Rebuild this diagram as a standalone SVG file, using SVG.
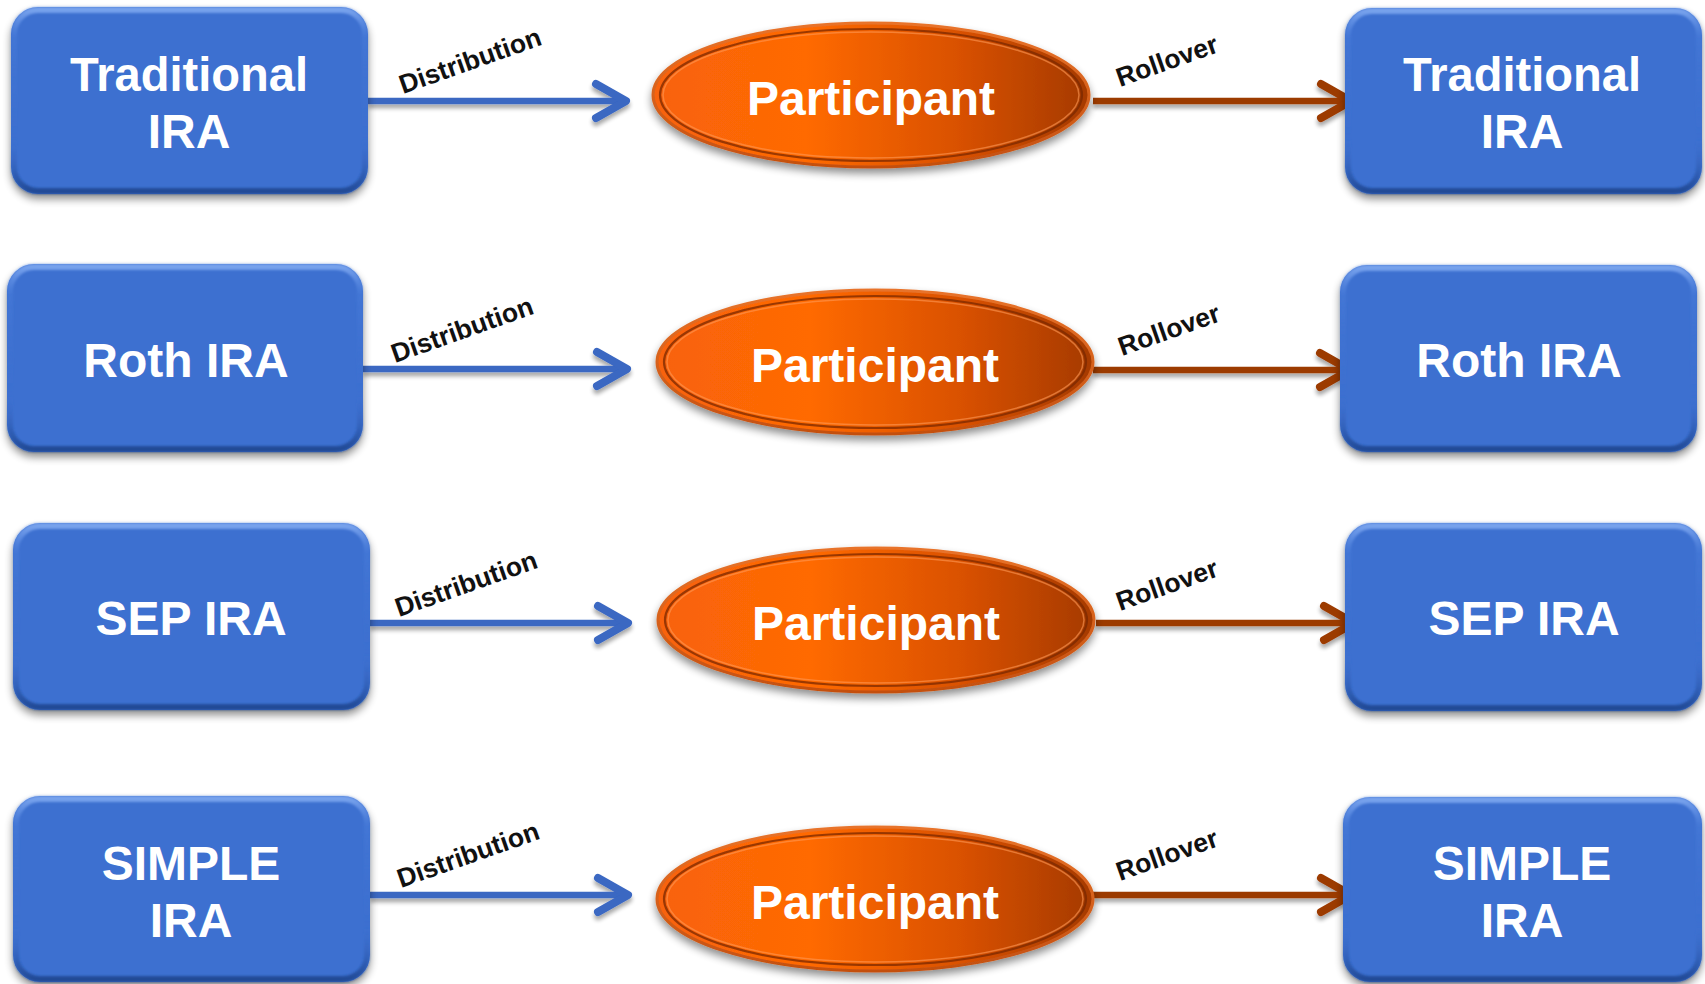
<svg xmlns="http://www.w3.org/2000/svg" width="1705" height="984" viewBox="0 0 1705 984">
<style>
.bt{font-family:"Liberation Sans",Arial,sans-serif;font-weight:bold;font-size:48px;fill:#fff;text-anchor:middle}
.pt{font-family:"Liberation Sans",Arial,sans-serif;font-weight:bold;font-size:48px;fill:#fff;text-anchor:middle}
.lb{font-family:"Liberation Sans",Arial,sans-serif;font-weight:bold;font-size:26.5px;fill:#111}
.box{fill:#3C70D0}
.bev{fill:none;stroke:url(#bevG);stroke-width:6}
.ell{fill:url(#ellG);stroke:url(#rimG);stroke-width:3}
.ring1{fill:none;stroke:#7a2800;stroke-width:2.2;opacity:.75}
.ring2{fill:none;stroke:#ff9a55;stroke-width:1.5;opacity:.6}
.bl{stroke:#3A67C2;stroke-width:6.5;fill:none}
.bh{stroke:#3A67C2;stroke-width:8;fill:none;stroke-linecap:round;stroke-linejoin:round}
.rl{stroke:#9C3A02;stroke-width:6.5;fill:none}
.rh{stroke:#9C3A02;stroke-width:8;fill:none;stroke-linecap:round;stroke-linejoin:round}
</style>
<defs>
<linearGradient id="bevG" x1="0" y1="0" x2="0" y2="1">
<stop offset="0" stop-color="#7FA8F0" stop-opacity="0.9"/>
<stop offset="0.15" stop-color="#4C80DD" stop-opacity="0.4"/>
<stop offset="0.7" stop-color="#3C70D0" stop-opacity="0"/>
<stop offset="1" stop-color="#1E4590" stop-opacity="0.9"/>
</linearGradient>
<linearGradient id="ellG" x1="0" y1="0" x2="1" y2="0">
<stop offset="0" stop-color="#F86208"/>
<stop offset="0.35" stop-color="#FF6A05"/>
<stop offset="0.7" stop-color="#D95100"/>
<stop offset="1" stop-color="#A53A00"/>
</linearGradient>
<linearGradient id="rimG" x1="0" y1="0" x2="0" y2="1">
<stop offset="0" stop-color="#E8732A"/>
<stop offset="1" stop-color="#C45010"/>
</linearGradient>
<filter id="sh" x="-10%" y="-10%" width="120%" height="130%">
<feGaussianBlur in="SourceAlpha" stdDeviation="4"/>
<feOffset dx="0" dy="5" result="b"/>
<feComponentTransfer><feFuncA type="linear" slope="0.45"/></feComponentTransfer>
<feMerge><feMergeNode/><feMergeNode in="SourceGraphic"/></feMerge>
</filter>
<filter id="ash" x="-5%" y="-50%" width="110%" height="200%">
<feGaussianBlur in="SourceAlpha" stdDeviation="2"/>
<feOffset dx="0" dy="4" result="b"/>
<feComponentTransfer><feFuncA type="linear" slope="0.35"/></feComponentTransfer>
<feMerge><feMergeNode/><feMergeNode in="SourceGraphic"/></feMerge>
</filter>
<filter id="soft"><feGaussianBlur stdDeviation="1.2"/></filter>
</defs>
<rect width="1705" height="984" fill="#fff"/>

<g id="connectors">
<g filter="url(#ash)">
<path class="bl" d="M368 101H622"/><path class="bh" d="M596 84L626 101L596 118"/>
<path class="bl" d="M363 369H623"/><path class="bh" d="M597 352L627 369L597 386"/>
<path class="bl" d="M370 623H624"/><path class="bh" d="M598 606L628 623L598 640"/>
<path class="bl" d="M370 895H624"/><path class="bh" d="M598 878L628 895L598 912"/>
<path class="rl" d="M1093 101H1347"/><path class="rh" d="M1321 84L1351 101L1321 118"/>
<path class="rl" d="M1093 370H1346"/><path class="rh" d="M1320 353L1350 370L1320 387"/>
<path class="rl" d="M1096 623H1350"/><path class="rh" d="M1324 606L1354 623L1324 640"/>
<path class="rl" d="M1093 895H1347"/><path class="rh" d="M1321 878L1351 895L1321 912"/>
</g>
<text class="lb" transform="translate(403,94) rotate(-19.5)">Distribution</text>
<text class="lb" transform="translate(395,363) rotate(-19.5)">Distribution</text>
<text class="lb" transform="translate(399,617) rotate(-19.5)">Distribution</text>
<text class="lb" transform="translate(401,888) rotate(-19.5)">Distribution</text>
<text class="lb" transform="translate(1120,87) rotate(-19.5)">Rollover</text>
<text class="lb" transform="translate(1122,356) rotate(-19.5)">Rollover</text>
<text class="lb" transform="translate(1120,611) rotate(-19.5)">Rollover</text>
<text class="lb" transform="translate(1120,881) rotate(-19.5)">Rollover</text>
</g>

<g id="src-traditional">
<rect class="box" x="11" y="7" width="357" height="187" rx="27" filter="url(#sh)"/>
<rect class="bev" x="14" y="10" width="351" height="181" rx="24" filter="url(#soft)"/>
<text class="bt" x="189" y="91" textLength="238" lengthAdjust="spacingAndGlyphs">Traditional</text>
<text class="bt" x="189" y="148">IRA</text>
</g>
<g id="participant-1">
<ellipse class="ell" cx="871" cy="95" rx="218" ry="72" filter="url(#sh)"/>
<ellipse class="ring1" cx="871" cy="95" rx="211" ry="66"/>
<ellipse class="ring2" cx="871" cy="95" rx="208" ry="63"/>
<text class="pt" x="871" y="115">Participant</text>
</g>
<g id="dst-traditional">
<rect class="box" x="1345" y="8" width="357" height="186" rx="27" filter="url(#sh)"/>
<rect class="bev" x="1348" y="11" width="351" height="180" rx="24" filter="url(#soft)"/>
<text class="bt" x="1522" y="91" textLength="238" lengthAdjust="spacingAndGlyphs">Traditional</text>
<text class="bt" x="1522" y="148">IRA</text>
</g>

<g id="src-roth">
<rect class="box" x="7" y="264" width="356" height="188" rx="27" filter="url(#sh)"/>
<rect class="bev" x="10" y="267" width="350" height="182" rx="24" filter="url(#soft)"/>
<text class="bt" x="186" y="377">Roth IRA</text>
</g>
<g id="participant-2">
<ellipse class="ell" cx="875" cy="362" rx="218" ry="72" filter="url(#sh)"/>
<ellipse class="ring1" cx="875" cy="362" rx="211" ry="66"/>
<ellipse class="ring2" cx="875" cy="362" rx="208" ry="63"/>
<text class="pt" x="875" y="382">Participant</text>
</g>
<g id="dst-roth">
<rect class="box" x="1340" y="265" width="357" height="187" rx="27" filter="url(#sh)"/>
<rect class="bev" x="1343" y="268" width="351" height="181" rx="24" filter="url(#soft)"/>
<text class="bt" x="1519" y="377">Roth IRA</text>
</g>

<g id="src-sep">
<rect class="box" x="13" y="523" width="357" height="187" rx="27" filter="url(#sh)"/>
<rect class="bev" x="16" y="526" width="351" height="181" rx="24" filter="url(#soft)"/>
<text class="bt" x="191" y="635">SEP IRA</text>
</g>
<g id="participant-3">
<ellipse class="ell" cx="876" cy="620" rx="218" ry="72" filter="url(#sh)"/>
<ellipse class="ring1" cx="876" cy="620" rx="211" ry="66"/>
<ellipse class="ring2" cx="876" cy="620" rx="208" ry="63"/>
<text class="pt" x="876" y="640">Participant</text>
</g>
<g id="dst-sep">
<rect class="box" x="1345" y="523" width="357" height="188" rx="27" filter="url(#sh)"/>
<rect class="bev" x="1348" y="526" width="351" height="182" rx="24" filter="url(#soft)"/>
<text class="bt" x="1524" y="635">SEP IRA</text>
</g>

<g id="src-simple">
<rect class="box" x="13" y="796" width="357" height="186" rx="27" filter="url(#sh)"/>
<rect class="bev" x="16" y="799" width="351" height="180" rx="24" filter="url(#soft)"/>
<text class="bt" x="191" y="880">SIMPLE</text>
<text class="bt" x="191" y="937">IRA</text>
</g>
<g id="participant-4">
<ellipse class="ell" cx="875" cy="899" rx="218" ry="72" filter="url(#sh)"/>
<ellipse class="ring1" cx="875" cy="899" rx="211" ry="66"/>
<ellipse class="ring2" cx="875" cy="899" rx="208" ry="63"/>
<text class="pt" x="875" y="919">Participant</text>
</g>
<g id="dst-simple">
<rect class="box" x="1343" y="797" width="359" height="185" rx="27" filter="url(#sh)"/>
<rect class="bev" x="1346" y="800" width="353" height="179" rx="24" filter="url(#soft)"/>
<text class="bt" x="1522" y="880">SIMPLE</text>
<text class="bt" x="1522" y="937">IRA</text>
</g>
</svg>
